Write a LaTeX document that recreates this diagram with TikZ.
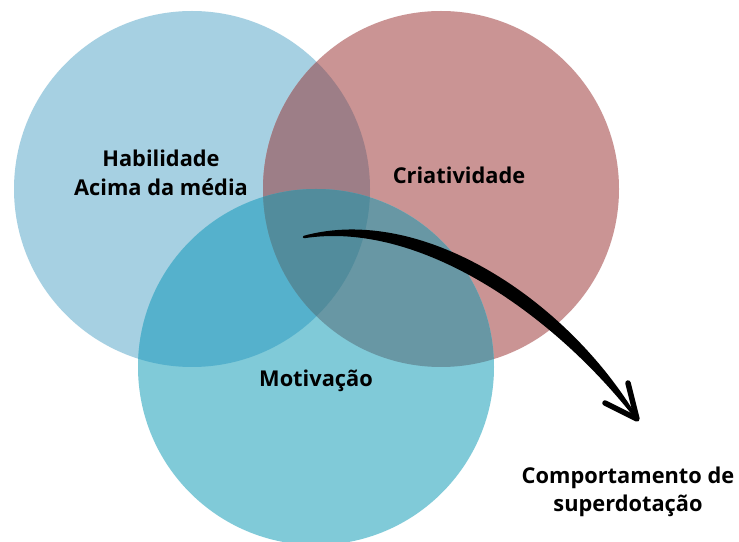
\documentclass[tikz,border=0pt]{standalone}
\usepackage{fontspec}
\setmainfont{Open Sans}
\begin{document}
\begin{tikzpicture}[x=1pt,y=1pt,
  vennLabel/.style={text=drawColor,align=center,inner sep=0pt,outer sep=0pt,
    font=\fontsize{21.8}{28.5}\selectfont\bfseries}]
\definecolor{fillColor}{RGB}{255,255,255}
\path[use as bounding box,fill=fillColor] (0,0) rectangle (739,541);
\begin{scope}
\path[clip] (0,0) rectangle (739,541);
\coordinate (habCenter) at (192,352);
\coordinate (criCenter) at (441,352);
\coordinate (motCenter) at (316,174);
\definecolor{fillColor}{RGB}{166,208,226}

\path[fill=fillColor] (habCenter) circle (178);
\definecolor{fillColor}{RGB}{202,148,148}

\path[fill=fillColor] (criCenter) circle (178);
\definecolor{fillColor}{RGB}{128,202,216}

\path[fill=fillColor] (motCenter) circle (178);
\end{scope}
\begin{scope}
\path[clip] (habCenter) circle (178);
\definecolor{fillColor}{RGB}{157,126,135}

\path[fill=fillColor] (criCenter) circle (178);
\definecolor{fillColor}{RGB}{85,177,204}

\path[fill=fillColor] (motCenter) circle (178);
\end{scope}
\begin{scope}
\path[clip] (criCenter) circle (178);
\definecolor{fillColor}{RGB}{104,151,164}

\path[fill=fillColor] (motCenter) circle (178);
\path[clip] (habCenter) circle (178);
\definecolor{fillColor}{RGB}{82,140,156}

\path[fill=fillColor] (motCenter) circle (178);
\end{scope}
\begin{scope}
\definecolor{drawColor}{RGB}{0,0,0}

\node[vennLabel] (habLabel) at (161,368.3) {Habilidade\\Acima da média};

\node[vennLabel,anchor=base] (criLabel) at (459,357) {Criatividade};

\node[vennLabel,anchor=base] (motLabel) at (316,154) {Motivação};

\node[vennLabel] (resultLabel) at (628,49.2) {Comportamento de\\superdotação};
\end{scope}
\begin{scope}
\definecolor{drawColor}{RGB}{0,0,0}
\coordinate (arrowStart) at (304,304);
\coordinate (arrowTip) at (637,122);
\coordinate (barbLeft) at (605,138);
\coordinate (barbUp) at (628,158);

\path[draw=drawColor,fill=drawColor,line width= 2.5,line join=round] (arrowStart) ..
	controls (421,336) and (566,241) .. (arrowTip) ..
	controls (554,229) and (419,322) .. (arrowStart) -- cycle;

\path[draw=drawColor,line width= 5.5,line join=round,line cap=round] (barbLeft) --
	(arrowTip) -- (barbUp);
\end{scope}
\end{tikzpicture}
\end{document}
